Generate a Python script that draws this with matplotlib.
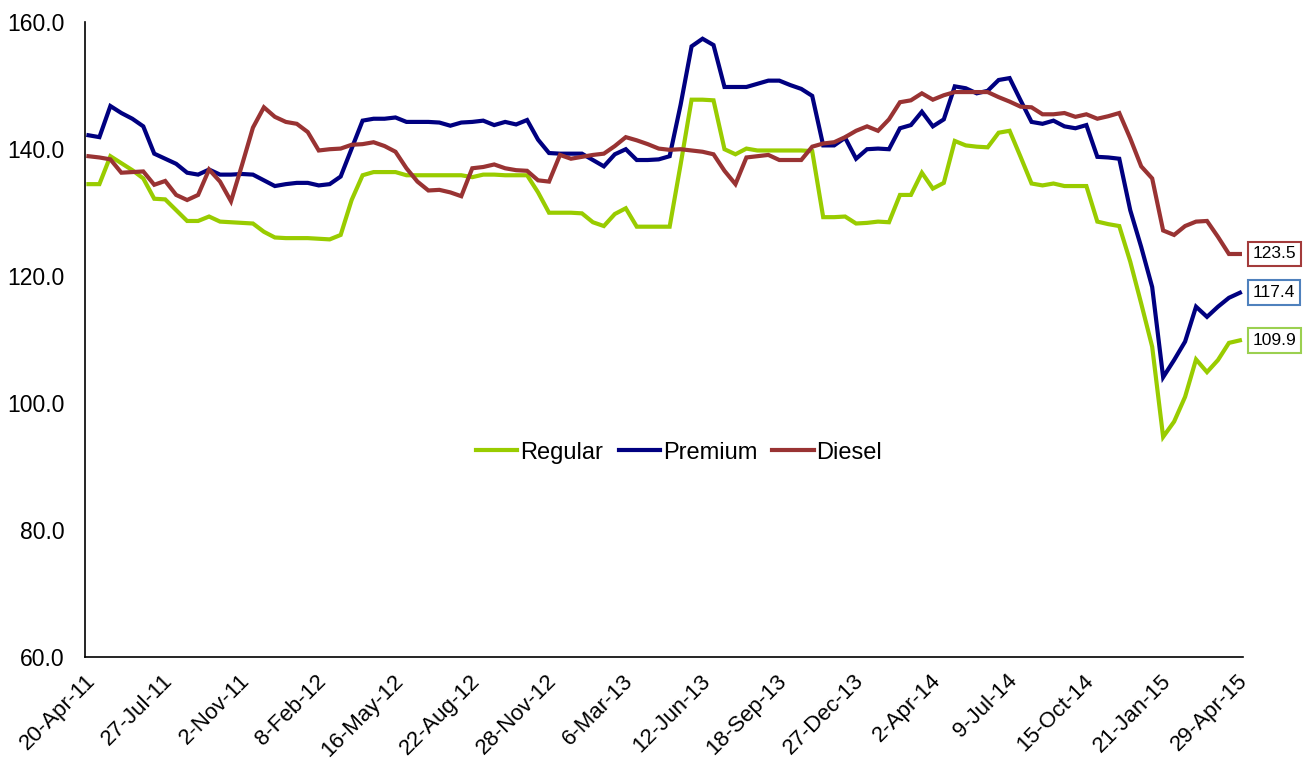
import matplotlib
matplotlib.use("Agg")
import matplotlib.pyplot as plt
import matplotlib.transforms as mtransforms
import numpy as np

plt.rcParams['font.family'] = ['Liberation Sans', 'DejaVu Sans']

# biweekly observations, 20-Apr-11 .. 29-Apr-15 (labels every 7th point)
tick_labels = ['20-Apr-11', '27-Jul-11', '2-Nov-11', '8-Feb-12', '16-May-12', '22-Aug-12',
               '28-Nov-12', '6-Mar-13', '12-Jun-13', '18-Sep-13', '27-Dec-13', '2-Apr-14',
               '9-Jul-14', '15-Oct-14', '21-Jan-15', '29-Apr-15']

regular = [134.5, 134.5, 138.9, 137.8, 136.7, 135.4, 132.2, 132.1, 130.4, 128.7,
           128.7, 129.4, 128.6, 128.5, 128.4, 128.3, 127.0, 126.1, 126.0, 126.0,
           126.0, 125.9, 125.8, 126.5, 132.0, 135.9, 136.4, 136.4, 136.4, 135.9,
           135.9, 135.9, 135.9, 135.9, 135.9, 135.6, 136.0, 136.0, 135.9, 135.9,
           135.9, 133.2, 130.0, 130.0, 130.0, 129.9, 128.5, 127.9, 129.8, 130.7,
           127.8, 127.8, 127.8, 127.8, 137.6, 147.8, 147.8, 147.7, 140.0, 139.2,
           140.1, 139.8, 139.8, 139.8, 139.8, 139.8, 139.7, 129.3, 129.3, 129.4,
           128.3, 128.4, 128.6, 128.5, 132.8, 132.8, 136.3, 133.8, 134.7, 141.3,
           140.6, 140.4, 140.3, 142.6, 142.9, 138.8, 134.6, 134.3, 134.6, 134.2,
           134.2, 134.2, 128.6, 128.2, 127.9, 122.3, 115.7, 108.9, 94.7, 97.1,
           101.0, 106.9, 104.9, 106.8, 109.5, 109.9]

premium = [142.2, 141.9, 146.8, 145.7, 144.8, 143.6, 139.3, 138.5, 137.7, 136.3,
           136.0, 136.8, 136.0, 136.0, 136.1, 136.0, 135.1, 134.2, 134.5, 134.7,
           134.7, 134.3, 134.5, 135.7, 140.1, 144.5, 144.8, 144.8, 145.0, 144.3,
           144.3, 144.3, 144.2, 143.7, 144.2, 144.3, 144.5, 143.8, 144.3, 143.9,
           144.6, 141.5, 139.4, 139.3, 139.3, 139.3, 138.3, 137.3, 139.2, 140.0,
           138.3, 138.3, 138.4, 138.9, 147.0, 156.2, 157.4, 156.4, 149.8, 149.8,
           149.8, 150.3, 150.8, 150.8, 150.1, 149.5, 148.4, 140.6, 140.6, 141.8,
           138.5, 140.0, 140.1, 140.0, 143.3, 143.8, 145.9, 143.6, 144.7, 149.9,
           149.6, 148.8, 149.2, 150.9, 151.2, 147.7, 144.3, 144.0, 144.5, 143.6,
           143.3, 143.8, 138.8, 138.7, 138.5, 130.4, 124.6, 118.3, 104.1, 106.8,
           109.7, 115.2, 113.6, 115.2, 116.6, 117.4]

diesel = [138.9, 138.7, 138.4, 136.3, 136.4, 136.5, 134.4, 135.0, 132.8, 132.0,
          132.8, 136.8, 134.9, 131.8, 137.5, 143.4, 146.6, 145.1, 144.3, 144.0,
          142.7, 139.8, 140.0, 140.1, 140.7, 140.8, 141.1, 140.5, 139.6, 137.0,
          134.9, 133.5, 133.6, 133.2, 132.6, 137.0, 137.2, 137.6, 137.0, 136.7,
          136.6, 135.1, 134.9, 139.1, 138.5, 138.8, 139.1, 139.3, 140.5, 141.9,
          141.4, 140.8, 140.1, 139.9, 140.0, 139.8, 139.6, 139.2, 136.6, 134.5,
          138.7, 138.9, 139.1, 138.3, 138.3, 138.3, 140.4, 140.9, 141.1, 141.9,
          142.9, 143.6, 142.9, 144.7, 147.4, 147.7, 148.8, 147.8, 148.5, 149.0,
          149.0, 149.0, 149.0, 148.2, 147.5, 146.7, 146.6, 145.5, 145.5, 145.7,
          145.1, 145.5, 144.8, 145.2, 145.7, 141.7, 137.3, 135.4, 127.2, 126.5,
          127.9, 128.6, 128.7, 126.2, 123.5, 123.5]

series = [('Regular', regular, '#99CC00', '#9BD050'),
          ('Premium', premium, '#000080', '#4F81BD'),
          ('Diesel', diesel, '#993333', '#A33B3B')]

fig = plt.figure(figsize=(13.1, 7.66), dpi=100)
ax = fig.add_axes([0.065, 0.142, 0.884, 0.829])

x = np.arange(len(regular))
for name, vals, col, box in series:
    ax.plot(x, vals, color=col, linewidth=3, label=name, solid_joinstyle='miter')
    ax.annotate('%.1f' % vals[-1], (x[-1], vals[-1]), xytext=(9, 0),
                textcoords='offset points', ha='left', va='center', fontsize=12.5,
                bbox=dict(boxstyle='square,pad=0.28', fc='white', ec=box, lw=1.5))

ax.set_ylim(60, 160)
ax.set_yticks(np.arange(60, 161, 20))
ax.set_yticklabels(['%.1f' % v for v in np.arange(60, 161, 20)], fontsize=16.5)
ax.set_xlim(-0.3, len(regular) - 0.7)
ax.set_xticks(x[::7])
ax.set_xticklabels(tick_labels, rotation=45, ha='right', rotation_mode='anchor', fontsize=16)
ax.tick_params(axis='y', length=0, pad=15)
ax.tick_params(axis='x', length=0, pad=8)

shift = mtransforms.ScaledTranslation(-3 / 100, -2 / 100, fig.dpi_scale_trans)
for lbl in ax.get_xticklabels():
    lbl.set_transform(lbl.get_transform() + shift)

for s in ['top', 'right']:
    ax.spines[s].set_visible(False)
ax.spines['left'].set_linewidth(1.2)
ax.spines['bottom'].set_linewidth(1.2)

ax.legend(loc='center', bbox_to_anchor=(0.513, 0.322), ncol=3, frameon=False,
          fontsize=17, handlelength=1.75, handletextpad=0.12, columnspacing=0.65)

fig.savefig('out.png', dpi=100)
